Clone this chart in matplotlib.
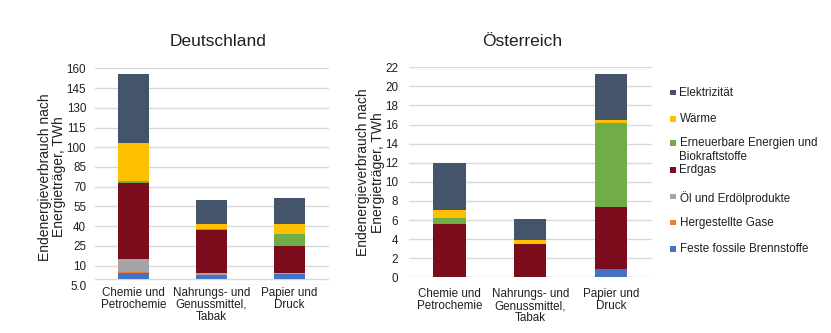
import matplotlib
matplotlib.use("Agg")
import matplotlib.pyplot as plt
from matplotlib.patches import Rectangle
import numpy as np

plt.rcParams['font.family'] = ['Liberation Sans', 'DejaVu Sans']

# Categories (industrial sectors)
sectors = ["Chemie und\nPetrochemie", "Nahrungs- und\nGenussmittel,\nTabak", "Papier und\nDruck"]

# Energy carriers, bottom to top in the stack
carriers = ["Feste fossile Brennstoffe", "Hergestellte Gase", "Öl und Erdölprodukte",
            "Erdgas", "Erneuerbare Energien und\nBiokraftstoffe", "Wärme", "Elektrizität"]
colors = ["#4472C4", "#ED7D31", "#A5A5A5", "#7B0C1C", "#70AD47", "#FFC000", "#44546A"]

# Final energy consumption, TWh – Germany
de_feste = [4.7, 2.7, 3.7]
de_gase = [0.5, 0.3, 0.2]
de_oel = [9.7, 1.7, 0.6]
de_erdgas = [58.2, 32.2, 20.8]
de_erneuerbar = [1.0, 1.0, 8.4]
de_waerme = [29.4, 3.6, 7.6]
de_strom = [52.2, 18.5, 19.8]

# Final energy consumption, TWh – Austria
at_feste = [0.0, 0.0, 0.84]
at_gase = [0.0, 0.0, 0.0]
at_oel = [0.0, 0.0, 0.0]
at_erdgas = [5.55, 3.46, 6.49]
at_erneuerbar = [0.7, 0.05, 8.84]
at_waerme = [0.8, 0.45, 0.31]
at_strom = [4.95, 2.13, 4.82]

de_ticks = [-5, 10, 25, 40, 55, 70, 85, 100, 115, 130, 145, 160]
de_ticklabels = ["5.0", "10", "25", "40", "55", "70", "85", "100", "115", "130", "145", "160"]
at_ticks = list(range(0, 23, 2))

W, H = 831, 333
fig = plt.figure(figsize=(W / 100, H / 100), dpi=100)


def px_axes(x0, y0, x1, y1):
    return fig.add_axes([x0 / W, 1 - y1 / H, (x1 - x0) / W, (y1 - y0) / H])


grid_color = "#D9D9D9"


def stacked(ax, series):
    x = np.arange(len(sectors))
    bottom = np.zeros(len(sectors))
    for vals, c in zip(series, colors):
        v = np.array(vals, dtype=float)
        ax.bar(x, v, 0.4, bottom=bottom, color=c, linewidth=0, zorder=3)
        bottom += v
    ax.set_xlim(-0.5, len(sectors) - 0.5)
    ax.set_xticks(x)
    ax.set_xticklabels(sectors, fontsize=8.4, color="#202020", linespacing=1.0)
    for s in ax.spines.values():
        s.set_visible(False)
    ax.grid(axis="y", color=grid_color, linewidth=1.0, zorder=0)
    ax.tick_params(axis="both", length=0, labelsize=8.4, colors="#202020")
    ax.set_ylabel("Endenergieverbrauch nach\nEnergieträger, TWh", fontsize=10,
                  color="#202020", linespacing=1.05)


ax1 = px_axes(94.5, 68.3, 328.5, 285.4)
stacked(ax1, [de_feste, de_gase, de_oel, de_erdgas, de_erneuerbar, de_waerme, de_strom])
ax1.set_ylim(-5, 160)
ax1.set_yticks(de_ticks)
ax1.set_yticklabels(de_ticklabels)
ax1.axhline(0, color=grid_color, linewidth=1.0, zorder=1)
ax1.tick_params(axis="y", pad=6)
ax1.tick_params(axis="x", pad=1)
ax1.yaxis.set_label_coords(-0.12, 0.5)

ax2 = px_axes(409, 67.3, 651.5, 277.3)
stacked(ax2, [at_feste, at_gase, at_oel, at_erdgas, at_erneuerbar, at_waerme, at_strom])
ax2.set_ylim(0, 22)
ax2.set_yticks(at_ticks)
ax2.tick_params(axis="y", pad=8)
ax2.tick_params(axis="x", pad=8)
ax2.yaxis.set_label_coords(-0.1, 0.5)

fig.text(218 / W, 1 - 41.7 / H, "Deutschland", fontsize=12.5, ha="center", va="center", color="#202020")
fig.text(521.7 / W, 1 - 41.7 / H, "Österreich", fontsize=12.5, ha="center", va="center", color="#202020")

# Legend, top entry first
legend_y = [92.7, 119, 143, 170, 196.7, 222.7, 249]
for lab, c, yy in zip(carriers[::-1], colors[::-1], legend_y):
    s = 5.5
    fig.patches.append(Rectangle(((673 - s / 2) / W, 1 - (yy + s / 2) / H), s / W, s / H,
                                 transform=fig.transFigure, facecolor=c, edgecolor="none"))
    fig.text(679.5 / W, 1 - (yy - 6) / H, lab, fontsize=8.4, ha="left", va="top",
             color="#202020", linespacing=1.2)

fig.savefig("out.png", dpi=100, facecolor="white")
